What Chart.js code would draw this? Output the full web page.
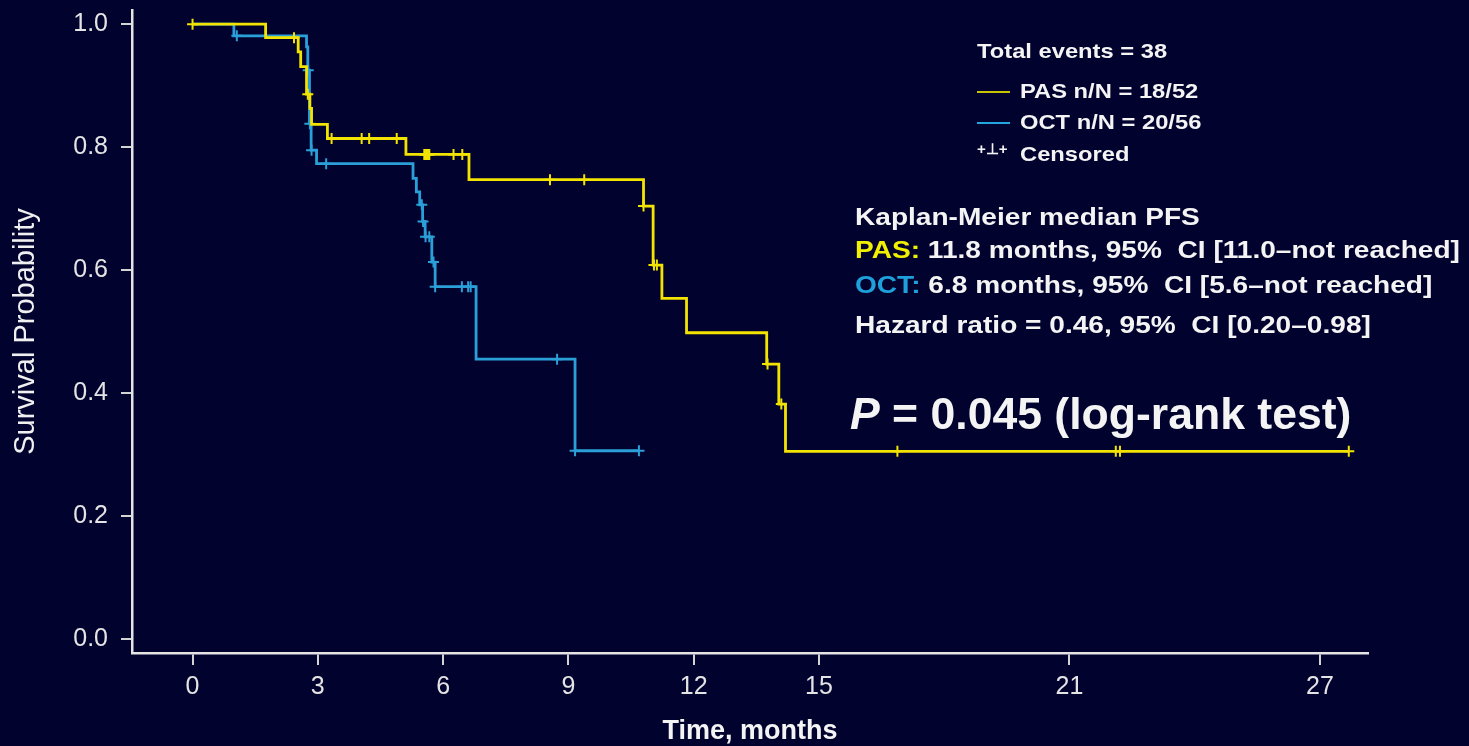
<!DOCTYPE html>
<html>
<head>
<meta charset="utf-8">
<script src="https://cdn.jsdelivr.net/npm/chart.js@4.4.1/dist/chart.umd.min.js"></script>
<style>
  html, body { margin: 0; padding: 0; background: #02022f; }
  #wrap { position: relative; width: 1469px; height: 746px; overflow: hidden; }
  .note { position: absolute; white-space: nowrap; color: #f4f4f4; font-family: "Liberation Sans", Arial, sans-serif;
          font-weight: bold; line-height: 1; transform-origin: 0 50%; }
  .leg { font-size: 21px; transform: scaleX(1.13); }
  .km { font-size: 24px; transform: scaleX(1.17); }
  .swatch { position: absolute; height: 2px; width: 33px; }
</style>
</head>
<body>
<div id="wrap">
  <canvas id="kmChart" width="1469" height="746"></canvas>

  <div class="note leg" style="left:977px; top:40px;">Total events = 38</div>
  <div class="swatch" style="left:977px; top:91px; background:#c8c400;"></div>
  <div class="note leg" style="left:1020px; top:80px;">PAS n/N = 18/52</div>
  <div class="swatch" style="left:977px; top:122px; background:#23a6df;"></div>
  <div class="note leg" style="left:1020px; top:111px;">OCT n/N = 20/56</div>
  <div class="note" style="left:977px; top:141px; font-size:15px;">+⊥+</div>
  <div class="note leg" style="left:1020px; top:143px;">Censored</div>

  <div class="note km" style="left:855px; top:205px;">Kaplan-Meier median PFS</div>
  <div class="note km" style="left:855px; top:238px;"><span style="color:#f0f000;">PAS:</span> 11.8 months, 95%&nbsp; CI [11.0–not reached]</div>
  <div class="note km" style="left:855px; top:273px;"><span style="color:#1ea0dc;">OCT:</span> 6.8 months, 95%&nbsp; CI [5.6–not reached]</div>
  <div class="note km" style="left:855px; top:313px;">Hazard ratio = 0.46, 95%&nbsp; CI [0.20–0.98]</div>
  <div class="note" style="left:850px; top:391px; font-size:45px; transform:scaleX(0.99);"><i>P</i> = 0.045 (log-rank test)</div>
</div>

<script>
// Kaplan-Meier step points: time (months) and survival after the event
const pasTimes = [0, 1.75, 2.53, 2.59, 2.73, 2.81, 2.85, 3.23, 5.11, 6.62, 10.80, 11.03, 11.24, 11.83, 13.75, 14.04, 14.20, 27.69];
const pasSurv  = [1.0, 0.978, 0.955, 0.931, 0.886, 0.863, 0.837, 0.814, 0.788, 0.747, 0.704, 0.608, 0.554, 0.498, 0.447, 0.382, 0.305, 0.305];
const pasCensored = [0, 2.43, 2.76, 3.33, 4.05, 4.23, 4.89, 5.55, 5.58, 5.61, 5.64, 5.67, 6.25, 6.46, 8.56, 9.38,
                     10.80, 11.05, 11.12, 13.77, 14.10, 16.88, 22.11, 22.21, 27.69];

const octTimes = [0, 0.99, 2.73, 2.76, 2.80, 2.84, 2.97, 5.28, 5.36, 5.44, 5.51, 5.57, 5.73, 5.81, 6.79, 9.16, 10.69];
const octSurv  = [1.0, 0.981, 0.963, 0.925, 0.838, 0.795, 0.773, 0.749, 0.727, 0.706, 0.679, 0.654, 0.613, 0.573, 0.455, 0.306, 0.306];
const octCensored = [1.06, 2.77, 2.81, 2.85, 3.20, 5.49, 5.52, 5.58, 5.67, 5.77, 5.81, 6.45, 6.60, 6.66, 8.73, 9.16, 10.69];

const xTicks = [0, 3, 6, 9, 12, 15, 21, 27];
const yTicks = [0, 0.2, 0.4, 0.6, 0.8, 1.0];

const PAS_COLOR = '#f2e300';
const OCT_COLOR = '#2a9fd8';
const AXIS_COLOR = '#e4e4e4';
const FONT = '"Liberation Sans", Arial, sans-serif';

// survival value of a step curve at time t
function survAt(times, surv, t) {
    let s = surv[0];
    for (let i = 0; i < times.length; i++) {
        if (times[i] <= t) s = surv[i];
    }
    return s;
}

const toPoints = (times, surv) => times.map((t, i) => ({ x: t, y: surv[i] }));
const censorPoints = (cens, times, surv) => cens.map(t => ({ x: t, y: survAt(times, surv, t) }));

function curve(label, data, color) {
    return {
        label: label,
        data: data,
        borderColor: color,
        borderWidth: 2.8,
        stepped: true,
        pointRadius: 0,
        fill: false
    };
}

function censors(label, data, color) {
    return {
        label: label,
        data: data,
        showLine: false,
        pointStyle: 'cross',
        pointRadius: 5.5,
        pointBorderWidth: 2,
        pointBorderColor: color,
        pointBackgroundColor: color
    };
}

new Chart(document.getElementById('kmChart').getContext('2d'), {
    type: 'line',
    data: {
        datasets: [
            censors('PAS censored', censorPoints(pasCensored, pasTimes, pasSurv), PAS_COLOR),
            curve('PAS', toPoints(pasTimes, pasSurv), PAS_COLOR),
            censors('OCT censored', censorPoints(octCensored, octTimes, octSurv), OCT_COLOR),
            curve('OCT', toPoints(octTimes, octSurv), OCT_COLOR)
        ]
    },
    options: {
        responsive: false,
        animation: false,
        layout: { padding: { top: 10, right: 101, left: 0, bottom: 0 } },
        plugins: {
            legend: { display: false },
            tooltip: { enabled: false }
        },
        scales: {
            x: {
                type: 'linear',
                min: -1.45,
                max: 28.15,
                afterBuildTicks: s => { s.ticks = xTicks.map(v => ({ value: v })); },
                afterFit: s => { s.height = 93; s.paddingLeft = 0; s.paddingRight = 0; },
                ticks: {
                    color: AXIS_COLOR,
                    font: { family: FONT, size: 25 },
                    padding: 7,
                    maxRotation: 0,
                    callback: v => String(v)
                },
                grid: { drawOnChartArea: false, drawTicks: true, tickLength: 12, color: '#d4d4d4', lineWidth: 2 },
                border: { display: true, color: AXIS_COLOR, width: 2.5 },
                title: {
                    display: true,
                    text: 'Time, months',
                    color: '#f4f4f4',
                    font: { family: FONT, size: 27, weight: 'bold' },
                    padding: { top: 0, bottom: -2 }
                }
            },
            y: {
                type: 'linear',
                min: -0.023,
                max: 1.023,
                afterBuildTicks: s => { s.ticks = yTicks.map(v => ({ value: v })); },
                afterFit: s => { s.width = 132; s.paddingTop = 0; s.paddingBottom = 0; },
                ticks: {
                    color: AXIS_COLOR,
                    font: { family: FONT, size: 25 },
                    padding: 13,
                    callback: v => v.toFixed(1)
                },
                grid: { drawOnChartArea: false, drawTicks: true, tickLength: 11, color: '#d4d4d4', lineWidth: 2 },
                border: { display: true, color: AXIS_COLOR, width: 2.5 },
                title: {
                    display: true,
                    text: 'Survival Probability',
                    color: '#f0f0f0',
                    font: { family: FONT, size: 29 },
                    padding: { top: 9, bottom: 0 }
                }
            }
        }
    }
});
</script>
</body>
</html>
